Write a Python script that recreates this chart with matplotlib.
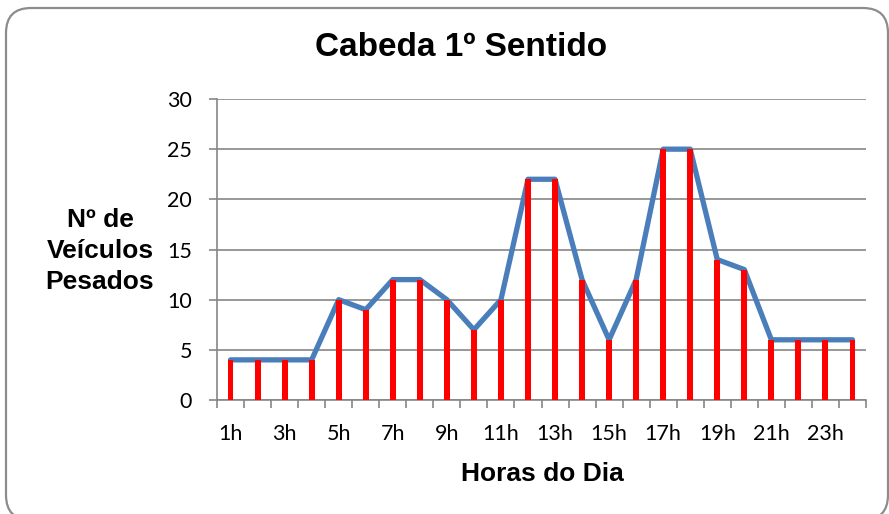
import matplotlib.pyplot as plt
from matplotlib.patches import FancyBboxPatch
from matplotlib.transforms import IdentityTransform

horas = list(range(1, 25))
rotulos = [f'{h}h' for h in horas]
pesados = [4, 4, 4, 4, 10, 9, 12, 12, 10, 7, 10, 22,
           22, 12, 6, 12, 25, 25, 14, 13, 6, 6, 6, 6]

cinza = '#868686'

fig = plt.figure(figsize=(8.89, 5.14), dpi=100)
ax = fig.add_axes([217 / 889, 1 - 400 / 514, 649 / 889, 301 / 514])

ax.plot(horas, pesados, color='#4A7EBB', linewidth=3.8,
        solid_joinstyle='round', solid_capstyle='round', zorder=3)
ax.bar(horas, pesados, width=0.22, color='#FF0000', zorder=4)

ax.set_xlim(0.5, 24.5)
ax.set_ylim(0, 30)
ax.set_yticks(range(0, 31, 5))
ax.set_xticks(horas[::2])
ax.set_xticklabels(rotulos[::2])
ax.set_xticks([h + 0.5 for h in range(0, 25)], minor=True)
ax.tick_params(axis='x', which='major', length=0, pad=17)
ax.tick_params(axis='x', which='minor', length=6, width=1.2, color=cinza)
ax.tick_params(axis='y', length=6, width=1.2, color=cinza, pad=12)
for lab in ax.get_xticklabels() + ax.get_yticklabels():
    lab.set_fontfamily('Lato')
    lab.set_fontsize(15.5)

ax.grid(axis='y', color=cinza, linewidth=1.2, zorder=0)
ax.set_axisbelow(True)
for s in ['top', 'right']:
    ax.spines[s].set_visible(False)
for s in ['left', 'bottom']:
    ax.spines[s].set_color(cinza)
    ax.spines[s].set_linewidth(1.2)

fig.text(461 / 889, 1 - 48 / 514, 'Cabeda 1º Sentido', ha='center', va='center',
         fontsize=24, fontweight='bold', family='Liberation Sans')
fig.text(542 / 889, 1 - 474 / 514, 'Horas do Dia', ha='center', va='center',
         fontsize=19, fontweight='bold', family='Liberation Sans')
fig.text(100 / 889, 1 - 251 / 514, 'Nº de\nVeículos\nPesados', ha='center', va='center',
         fontsize=19, fontweight='bold', family='Liberation Sans', linespacing=1.35)

# moldura arredondada
moldura = FancyBboxPatch((6, -6), 882, 512, boxstyle='round,pad=0,rounding_size=25',
                         transform=IdentityTransform(), fill=False,
                         edgecolor='#8C8C8C', linewidth=1.6)
fig.add_artist(moldura)

fig.savefig('out.png', dpi=100)
